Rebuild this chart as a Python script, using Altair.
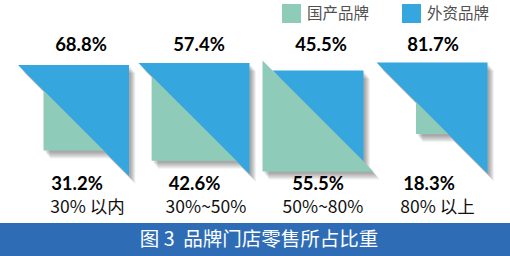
import altair as alt
import pandas as pd

# ---- data ----
categories = ["30% 以内", "30%~50%", "50%~80%", "80% 以上"]
domestic = [31.2, 42.6, 55.5, 18.3]   # 国产品牌
foreign = [68.8, 57.4, 45.5, 81.7]    # 外资品牌
brands = ["国产品牌", "外资品牌"]
caption = "图 3\u00a0\u00a0品牌门店零售所占比重"

# ---- layout / style ----
W, H = 510, 256
colors = ["#8ecbb8", "#36a6de"]
cx = [73.5, 194, 318, 432]
cy = [120.5, 118.5, 116, 118]
BIG = 111
top_lab_x = [81, 199, 321, 433]
bot_lab_x = [77, 194.5, 318, 429]
cat_lab_x = [87.5, 206, 323, 437.5]
NUM_FONT = "Lato"
CJK_FONT = "Noto Sans CJK SC"


def small_side(v):
    return 2.17 * v - 7.7


tri = []
for i in range(len(categories)):
    d, f = domestic[i], foreign[i]
    sd = BIG if d >= f else small_side(d)
    sf = BIG if f > d else small_side(f)
    # foreign: upper-right triangle
    x0, x1, top = cx[i] - sf / 2, cx[i] + sf / 2, cy[i] - sf / 2
    tri += [dict(id=f"f{i}", brand=brands[1], x=x0, y=top, y2=top),
            dict(id=f"f{i}", brand=brands[1], x=x1, y=top, y2=top + sf)]
    # domestic: lower-left triangle
    x0, x1, bot = cx[i] - sd / 2, cx[i] + sd / 2, cy[i] + sd / 2
    tri += [dict(id=f"d{i}", brand=brands[0], x=x0, y=bot, y2=bot - sd),
            dict(id=f"d{i}", brand=brands[0], x=x1, y=bot, y2=bot)]
tri_df = pd.DataFrame(tri)

shadow = []
for k, off in enumerate([2, 3, 4, 5, 6, 7, 8]):
    for r in tri:
        shadow.append(dict(id=f"{r['id']}_s{k}", x=r["x"] + off * 0.8,
                           y=r["y"] + off, y2=r["y2"] + off))
shadow_df = pd.DataFrame(shadow)

xs = alt.Scale(domain=[0, W], nice=False, zero=False)
ys = alt.Scale(domain=[0, H], nice=False, zero=False, reverse=True)
cs = alt.Scale(domain=brands, range=colors)

X = alt.X("x:Q", scale=xs, axis=None)
Y = alt.Y("y:Q", scale=ys, axis=None)

shadow_layer = alt.Chart(shadow_df).mark_area(color="black", opacity=0.055).encode(
    x=X, y=alt.Y("y:Q", scale=ys, axis=None, stack=None), y2="y2:Q", detail="id:N")

tri_layer = alt.Chart(tri_df).mark_area(opacity=1).encode(
    x=X, y=alt.Y("y:Q", scale=ys, axis=None, stack=None), y2="y2:Q",
    color=alt.Color("brand:N", scale=cs, legend=None), detail="id:N")

top_df = pd.DataFrame({"x": top_lab_x, "y": [45] * 4, "t": [f"{v:.1f}%" for v in foreign]})
bot_df = pd.DataFrame({"x": bot_lab_x, "y": [183.5] * 4, "t": [f"{v:.1f}%" for v in domestic]})
cat_df = pd.DataFrame({"x": cat_lab_x, "y": [208] * 4, "t": categories})

num_style = dict(font=NUM_FONT, fontSize=18.5, fontWeight="bold", color="#000000",
                 align="center", baseline="middle")
top_layer = alt.Chart(top_df).mark_text(**num_style).encode(x=X, y=Y, text="t:N")
bot_layer = alt.Chart(bot_df).mark_text(**num_style).encode(x=X, y=Y, text="t:N")
cat_layer = alt.Chart(cat_df).mark_text(font=CJK_FONT, fontSize=17.5, color="#111111",
                                        align="center", baseline="middle").encode(
    x=X, y=Y, text="t:N")

leg_df = pd.DataFrame({"brand": brands, "x": [291.5, 411.5], "y": [13.5, 13.5],
                       "tx": [307, 427]})
leg_sq = alt.Chart(leg_df).mark_square(size=361, opacity=1, filled=True).encode(
    x=X, y=Y, color=alt.Color("brand:N", scale=cs, legend=None))
leg_tx = alt.Chart(leg_df).mark_text(font=CJK_FONT, fontSize=15.5, color="#505050",
                                     align="left", baseline="middle").encode(
    x=alt.X("tx:Q", scale=xs, axis=None), y=Y, text="brand:N")

ban_df = pd.DataFrame({"x": [0], "x2": [W], "y": [223], "y2": [H], "tx": [259], "ty": [240],
                       "t": [caption]})
banner = alt.Chart(ban_df).mark_rect(color="#2e6db5").encode(
    x=X, x2="x2:Q", y=Y, y2="y2:Q")
ban_tx = alt.Chart(ban_df).mark_text(font=CJK_FONT, fontSize=19.5, color="white",
                                     align="center", baseline="middle").encode(
    x=alt.X("tx:Q", scale=xs, axis=None), y=alt.Y("ty:Q", scale=ys, axis=None), text="t:N")

chart = alt.layer(shadow_layer, tri_layer, top_layer, bot_layer, cat_layer,
                  leg_sq, leg_tx, banner, ban_tx).properties(
    width=W, height=H, autosize="none", padding=0, background="white"
).configure_view(stroke=None)

chart.save("out.html", embed_options={"renderer": "svg", "actions": False})
